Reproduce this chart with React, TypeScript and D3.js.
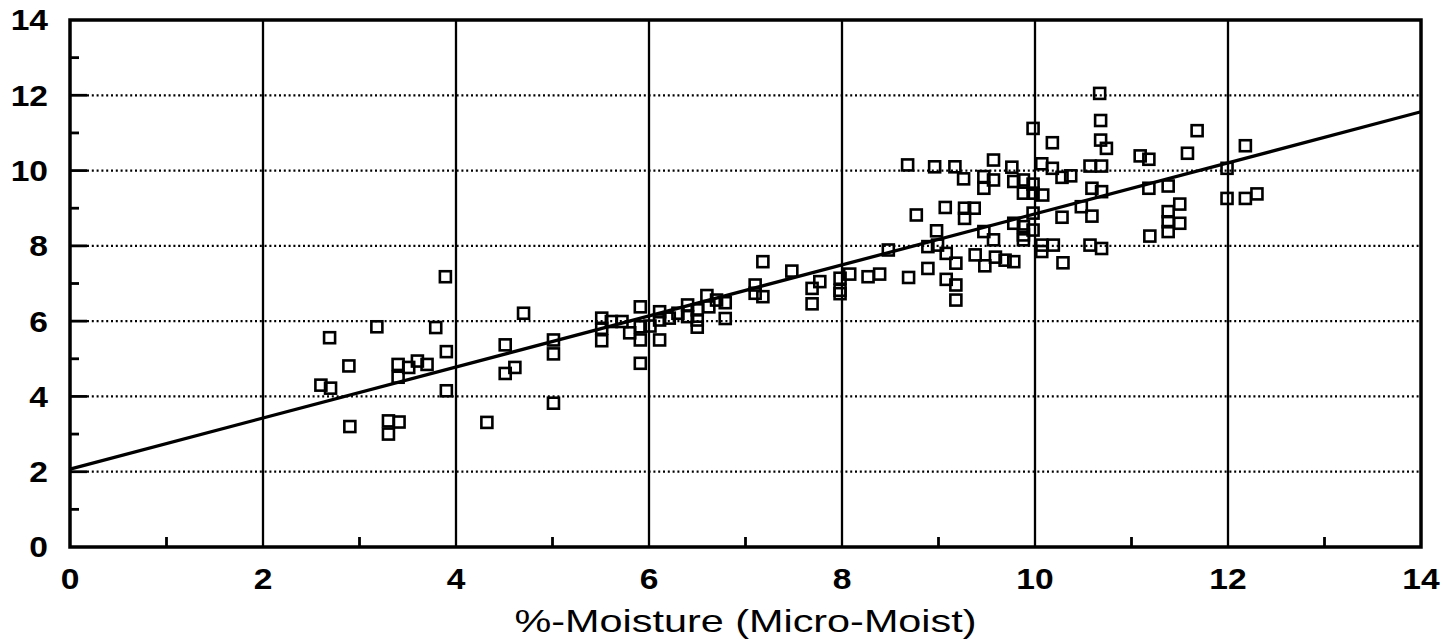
import React from 'react';
import * as d3 from 'd3';

// % moisture read by the Micro-Moist meter (x) vs. reference moisture (y)
const moistX = [
  2.6, 2.7, 2.69, 2.89, 2.9, 3.18, 3.3, 3.3, 3.41, 3.4, 3.4, 3.51, 3.6, 3.7, 3.79, 3.89, 3.9, 3.9,
  4.32, 4.51, 4.51, 4.61, 4.7, 5.01, 5.01, 5.01,
  5.51, 5.51, 5.51, 5.61, 5.72, 5.8, 5.91, 5.91, 5.91, 5.91, 6.01, 6.11, 6.11, 6.11, 6.21, 6.3,
  6.4, 6.4, 6.5, 6.5, 6.5, 6.6, 6.62, 6.7, 6.79, 6.79, 7.1, 7.1, 7.18, 7.18, 7.48, 7.77, 7.69,
  7.69, 7.98, 7.98, 7.98, 8.08, 8.27, 8.39, 8.48,
  8.68, 8.96, 9.17, 9.26, 9.57, 9.47, 9.47, 9.57, 8.77, 9.07, 9.27, 9.37, 9.27, 8.98, 8.89, 8.99,
  9.08, 9.18, 8.69, 8.89, 9.08, 9.18, 9.18, 9.47, 9.57, 9.38, 9.48, 9.59, 9.69, 9.78,
  10.67, 10.68, 10.68, 10.74, 9.98, 10.18, 9.76, 10.07, 10.18, 10.28, 10.37, 10.57, 10.69, 9.78,
  9.88, 9.98, 9.88, 9.98, 10.08, 10.59, 10.69, 10.48, 10.59, 10.28, 9.98, 9.78, 9.88, 9.98, 9.88,
  9.88, 10.07, 10.07, 10.19, 10.29, 10.57, 10.69,
  11.68, 12.18, 11.58, 11.09, 11.18, 11.99, 11.18, 11.38, 11.5, 11.38, 11.38, 11.5, 11.38, 11.19,
  11.99, 12.18, 12.3,
];
const moistY = [
  4.3, 4.22, 5.56, 4.81, 3.2, 5.85, 3.35, 3.0, 3.32, 4.85, 4.51, 4.77, 4.94, 4.85, 5.83, 7.18, 5.19, 4.15,
  3.31, 5.37, 4.61, 4.77, 6.21, 5.5, 5.13, 3.82,
  6.08, 5.81, 5.48, 5.99, 5.99, 5.69, 6.38, 5.85, 5.5, 4.88, 5.87, 6.25, 6.03, 5.5, 6.08, 6.21,
  6.43, 6.12, 6.3, 6.03, 5.84, 6.68, 6.38, 6.56, 6.49, 6.07, 6.96, 6.74, 6.65, 7.58, 7.33, 7.05, 6.87,
  6.46, 7.14, 6.82, 6.73, 7.25, 7.18, 7.25, 7.89,
  10.15, 10.1, 10.1, 9.78, 10.28, 9.84, 9.53, 9.75, 8.82, 9.02, 9.0, 9.0, 8.73, 8.4, 7.98, 8.02,
  7.8, 7.54, 7.16, 7.4, 7.11, 6.96, 6.56, 8.38, 8.16, 7.76, 7.47, 7.7, 7.62, 7.58,
  12.05, 11.33, 10.81, 10.59, 11.12, 10.74, 10.09, 10.18, 10.06, 9.82, 9.86, 10.12, 10.12, 9.71,
  9.75, 9.64, 9.4, 9.4, 9.35, 9.53, 9.44, 9.04, 8.79, 8.76, 8.87, 8.6, 8.51, 8.42, 8.29,
  8.16, 8.02, 7.85, 8.02, 7.55, 8.02, 7.93,
  11.06, 10.66, 10.46, 10.39, 10.3, 10.06, 9.53, 9.59, 9.11, 8.91, 8.64, 8.6, 8.38, 8.26,
  9.26, 9.26, 9.38,
];

const majorTicks = [0, 2, 4, 6, 8, 10, 12, 14];
const minorTicks = [1, 3, 5, 7, 9, 11, 13];
const fitIntercept = 2.07;
const fitSlope = 0.678;
const xTitle = '%-Moisture (Micro-Moist)';

const W = 1456;
const H = 644;

export default function App() {
  const x = d3.scaleLinear().domain([0, 14]).range([70, 1421]);
  const y = d3.scaleLinear().domain([0, 14]).range([547, 20]);
  const [x0, x1] = x.range();
  const [y0, y1] = y.range();

  const fit = d3
    .line<number>()
    .x((d) => x(d))
    .y((d) => y(fitIntercept + fitSlope * d));

  const font = 'Liberation Sans, Arial, Helvetica, sans-serif';
  const inner = majorTicks.slice(1, -1);
  const sq = 11;

  return (
    <svg
      width={W}
      height={H}
      style={{ position: 'absolute', left: 0, top: 0, background: '#fff' }}
    >
      {/* horizontal dotted grid */}
      {inner.map((t) => (
        <g key={'hg' + t}>
          <line x1={x0} x2={x0 + 17} y1={y(t)} y2={y(t)} stroke="#000" strokeWidth={2.8} />
          <line
            x1={x0 + 17}
            x2={x1}
            y1={y(t)}
            y2={y(t)}
            stroke="#000"
            strokeWidth={2.2}
            strokeDasharray="2 2.8"
          />
        </g>
      ))}
      {/* vertical solid grid */}
      {inner.map((t) => (
        <line key={'vg' + t} x1={x(t)} x2={x(t)} y1={y0} y2={y1} stroke="#000" strokeWidth={2.3} />
      ))}
      {/* minor ticks */}
      {minorTicks.map((t) => (
        <g key={'mt' + t}>
          <line x1={x0} x2={x0 + 9} y1={y(t)} y2={y(t)} stroke="#000" strokeWidth={2.8} />
          <line x1={x(t)} x2={x(t)} y1={y0} y2={y0 - 10} stroke="#000" strokeWidth={2.8} />
        </g>
      ))}

      {/* frame */}
      <rect
        x={x0}
        y={y1}
        width={x1 - x0}
        height={y0 - y1}
        fill="none"
        stroke="#000"
        strokeWidth={3.5}
      />

      {/* regression line */}
      <path d={fit([0, 14]) || ''} fill="none" stroke="#000" strokeWidth={3.3} />

      {/* points */}
      {moistX.map((v, i) => (
        <rect
          key={'p' + i}
          x={x(v) - sq / 2}
          y={y(moistY[i]) - sq / 2}
          width={sq}
          height={sq}
          fill="none"
          stroke="#000"
          strokeWidth={2.6}
        />
      ))}

      {/* y tick labels */}
      {majorTicks.map((t) => (
        <text
          key={'yl' + t}
          transform={`translate(48,${y(t)}) scale(1.12,1)`}
          textAnchor="end"
          dominantBaseline="central"
          fontFamily={font}
          fontWeight="bold"
          fontSize={30}
        >
          {t}
        </text>
      ))}
      {/* x tick labels */}
      {majorTicks.map((t) => (
        <text
          key={'xl' + t}
          transform={`translate(${x(t)},589) scale(1.12,1)`}
          textAnchor="middle"
          fontFamily={font}
          fontWeight="bold"
          fontSize={30}
        >
          {t}
        </text>
      ))}

      {/* axis title */}
      <text
        x={(x0 + x1) / 2}
        y={632}
        textAnchor="middle"
        fontFamily={font}
        fontSize={32}
        textLength={462}
        lengthAdjust="spacingAndGlyphs"
      >
        {xTitle}
      </text>
    </svg>
  );
}
